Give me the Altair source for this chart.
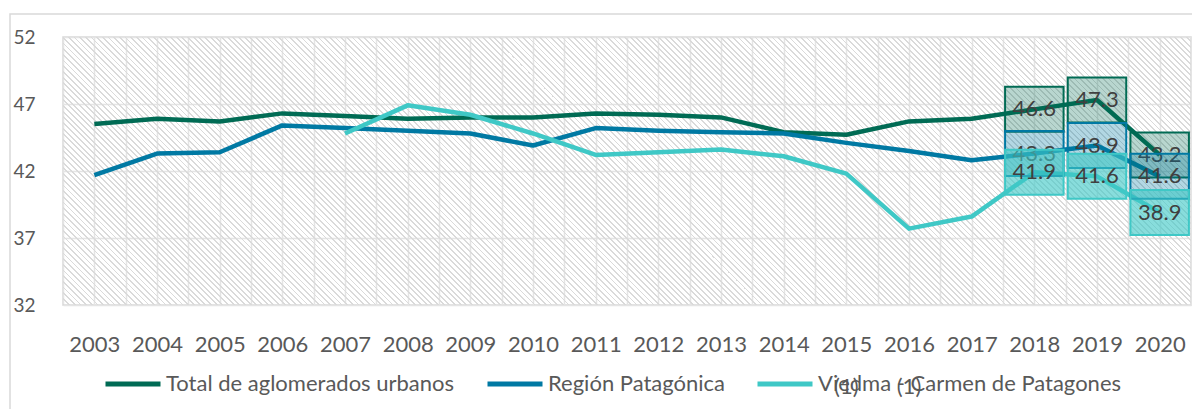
import altair as alt
import pandas as pd

years = list(range(2003, 2021))
series_names = ["Total de aglomerados urbanos", "Región Patagónica", "Viedma - Carmen de Patagones"]
total = [45.5, 45.9, 45.7, 46.3, 46.1, 45.9, 46.0, 46.0, 46.3, 46.2, 46.0, 44.9, 44.7, 45.7, 45.9, 46.6, 47.3, 43.2]
region = [41.7, 43.3, 43.4, 45.4, 45.2, 45.0, 44.8, 43.9, 45.2, 45.0, 44.9, 44.8, 44.1, 43.5, 42.8, 43.3, 43.9, 41.6]
viedma = [None, None, None, None, 44.8, 46.9, 46.2, 44.8, 43.2, 43.4, 43.6, 43.1, 41.8, 37.7, 38.6, 41.9, 41.6, 38.9]
y_ticks = [32, 37, 42, 47, 52]
label_years = [2018, 2019, 2020]
note_years = [2015, 2016]
note_text = "(1)"

colors = ["#006b54", "#0079a3", "#3fc8c6"]
box_opacity = [0.28, 0.3, 0.62]
FONT = "Lato"

rows = []
for name, vals in zip(series_names, [total, region, viedma]):
    for yr, v in zip(years, vals):
        if v is not None:
            rows.append({"year": yr, "series": name, "value": v})
df = pd.DataFrame(rows)

W, H = 1128, 268

# diagonal hatch background via a striped linear gradient
r = H / W
a = (1 + r) / (1 + r * r)
span = (W + H) / 2 ** 0.5
n = int(span / 4.0)
frac = 0.32
stripe = "#dadada"
clear = "rgba(255,255,255,0)"
stops = []
for i in range(n):
    o0 = i / n
    o1 = (i + frac) / n
    o2 = (i + 1) / n
    stops += [
        {"offset": o0, "color": stripe},
        {"offset": o1, "color": stripe},
        {"offset": o1, "color": clear},
        {"offset": o2, "color": clear},
    ]
hatch = {"gradient": "linear", "x1": 0, "y1": 1, "x2": a, "y2": 1 - a * r, "stops": stops}

x_grid_vals = sorted([y - 0.5 for y in years] + years + [years[-1] + 0.5])
x_scale = alt.Scale(domain=[years[0] - 0.5, years[-1] + 0.5], nice=False, zero=False)
y_scale = alt.Scale(domain=[y_ticks[0], y_ticks[-1]], nice=False, zero=False)

x_axis = alt.Axis(values=x_grid_vals,
                  labelExpr="datum.value % 1 == 0 ? datum.value + '' : ''",
                  grid=True, gridColor="#e4e4e4", gridWidth=1.5,
                  ticks=False, domain=False, title=None,
                  labelFont=FONT, labelFontSize=22, labelColor="#595959",
                  labelPadding=39, labelBaseline="middle",
                  labelOverlap=False, labelFlush=False)
y_axis = alt.Axis(values=y_ticks, grid=True, gridColor="#e4e4e4", gridWidth=1.5,
                  ticks=False, domain=False, title=None,
                  labelFont=FONT, labelFontSize=19, labelColor="#595959",
                  labelPadding=28)

x_enc = alt.X("year:Q", scale=x_scale, axis=x_axis)
y_enc = alt.Y("value:Q", scale=y_scale, axis=y_axis)

frame = alt.Chart(alt.Data(values=[{}])).mark_rect(
    fill="transparent", stroke="#d9d9d9", strokeWidth=1.5
).encode(x=alt.value(-53), x2=alt.value(1250), y=alt.value(-23), y2=alt.value(500))

bg = alt.Chart(alt.Data(values=[{}])).mark_rect(fill=hatch).encode(
    x=alt.value(0), x2=alt.value("width"), y=alt.value(0), y2=alt.value("height"))

lines = alt.Chart(df).mark_line(strokeWidth=4.5, strokeJoin="round").encode(
    x=x_enc, y=y_enc,
    color=alt.Color("series:N",
                    scale=alt.Scale(domain=series_names, range=colors),
                    sort=series_names,
                    legend=alt.Legend(orient="none", legendX=40, legendY=317,
                                      direction="horizontal", columns=3, title=None,
                                      symbolType="stroke", symbolSize=3025,
                                      symbolStrokeWidth=5, labelFont=FONT,
                                      labelFontSize=22, labelColor="#595959",
                                      columnPadding=22, labelOffset=3, labelLimit=600)),
)

box_path = "M-1.3,-1L1.3,-1L1.3,1L-1.3,1Z"
layers = [frame, bg, lines]
for name, col, op in zip(series_names, colors, box_opacity):
    base = alt.Chart(df).transform_filter(
        alt.FieldOneOfPredicate(field="year", oneOf=label_years)
    ).transform_filter(alt.datum.series == name)
    box = base.mark_point(shape=box_path, size=2025, filled=True, fill=col,
                          fillOpacity=op, stroke=col, strokeWidth=2,
                          strokeOpacity=1, opacity=1).encode(x=x_enc, y=y_enc)
    txt = base.mark_text(font=FONT, fontSize=22, color="#404040").encode(
        x=x_enc, y=y_enc, text=alt.Text("value:Q", format=".1f"))
    layers += [box, txt]

notes = alt.Chart(pd.DataFrame({"year": note_years, "t": [note_text] * len(note_years)})).mark_text(
    font=FONT, fontSize=22, color="#595959").encode(x=x_enc, y=alt.value(350), text="t:N")
layers.append(notes)

chart = alt.layer(*layers).properties(
    width=W, height=H,
    padding={"left": 55, "top": 29, "right": 1, "bottom": 104},
    autosize=alt.AutoSizeParams(type="none"),
    background="white",
).configure_view(stroke="#d9d9d9", strokeWidth=1.5, fill="white")

chart.save("out.html", embed_options={"renderer": "svg", "actions": False})
